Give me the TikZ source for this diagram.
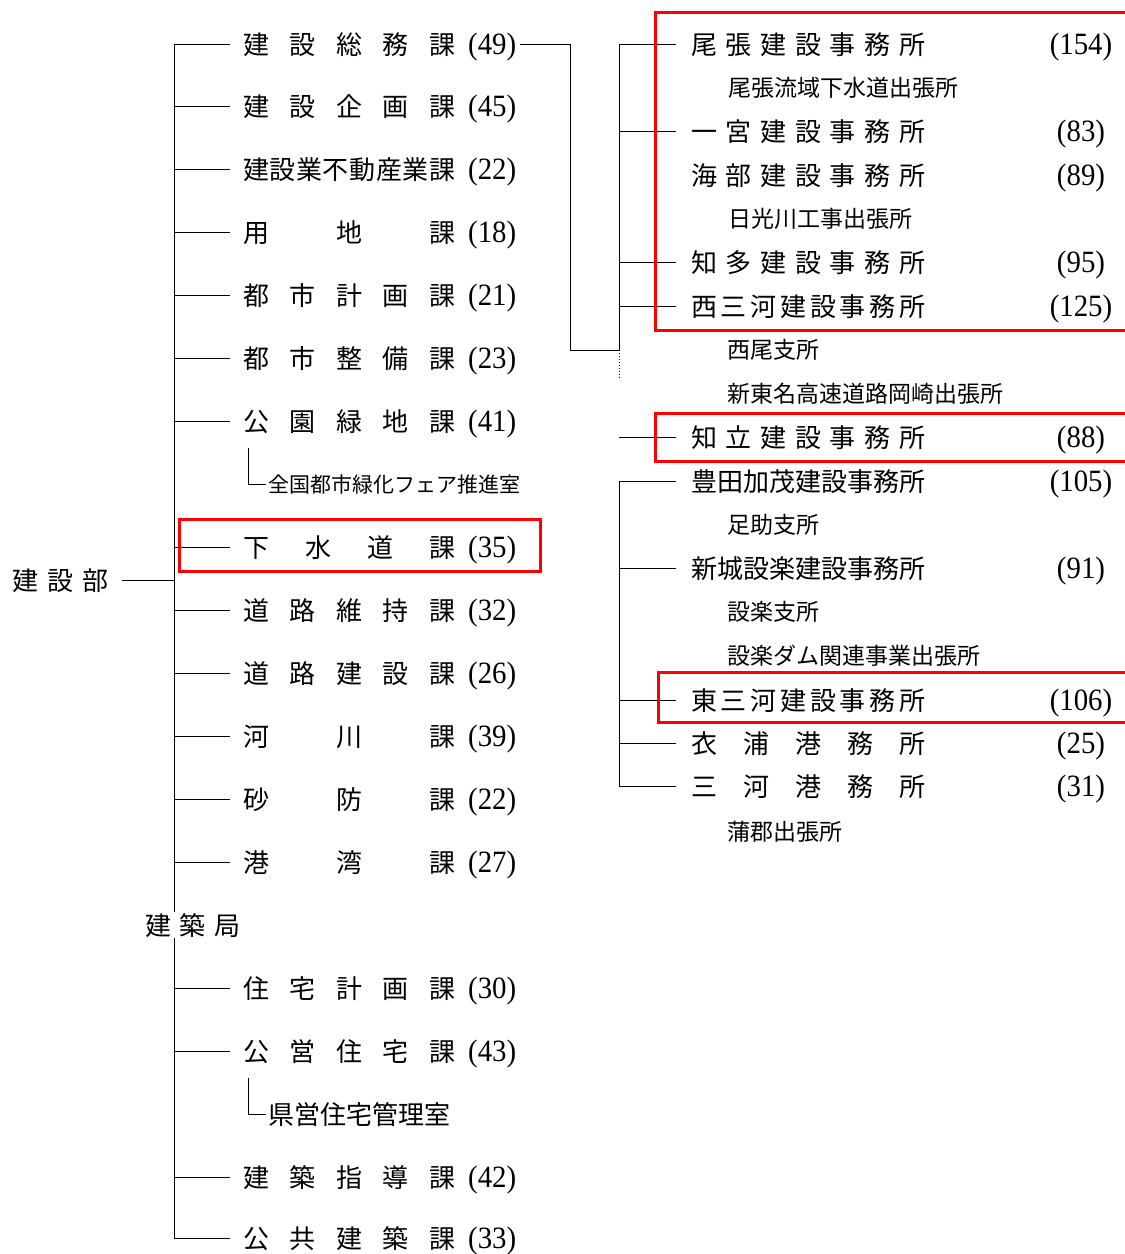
\documentclass[tikz,border=0pt]{standalone}
\usepackage{fontspec}
\newfontfamily\jp{Noto Sans CJK JP}
\newfontfamily\numf[FakeStretch=0.93]{Liberation Serif}
\newcommand\gp{\hfill}
\newcommand\LR[4]{\node[lrow] (#1) at (243,#2) {\hbox to 212pt{#3}\hspace{13pt}{\numf\fontsize{31}{31}\selectfont(#4)}};}
\newcommand\RR[4]{\node[lrow] (#1) at (691,#2) {\hbox to 234pt{#3}}; \node[num] (#1n) at (1081,#2) {(#4)};}
\newcommand\SB[4]{\node[subt] (#1) at (#2,#3) {#4};}
\begin{document}
\begin{tikzpicture}[x=1pt,y=-1pt,
  ln/.style={line width=1pt,black},
  redbox/.style={draw=red,line width=3pt},
  lrow/.style={anchor=west,inner sep=0pt,text height=23pt,text depth=3pt,font=\jp\fontsize{26}{26}\selectfont},
  subt/.style={anchor=west,inner sep=0pt,text height=20pt,text depth=3pt,font=\jp\fontsize{23}{23}\selectfont},
  num/.style={anchor=center,inner sep=0pt,text height=23pt,text depth=3pt,font=\numf\fontsize{31}{31}\selectfont}]
\useasboundingbox (0,0) rectangle (1125,1254);
% left column
\LR{L1}{44}{建\gp 設\gp 総\gp 務\gp 課}{49}
\LR{L2}{106}{建\gp 設\gp 企\gp 画\gp 課}{45}
\LR{L3}{169}{建\gp 設\gp 業\gp 不\gp 動\gp 産\gp 業\gp 課}{22}
\LR{L4}{232}{用\gp 地\gp 課}{18}
\LR{L5}{295}{都\gp 市\gp 計\gp 画\gp 課}{21}
\LR{L6}{358}{都\gp 市\gp 整\gp 備\gp 課}{23}
\LR{L7}{421}{公\gp 園\gp 緑\gp 地\gp 課}{41}
\node[subt,font=\jp\fontsize{21}{21}\selectfont] (S1) at (268,484) {全国都市緑化フェア推進室};
\LR{L8}{547}{下\gp 水\gp 道\gp 課}{35}
\LR{L9}{610}{道\gp 路\gp 維\gp 持\gp 課}{32}
\LR{L10}{673}{道\gp 路\gp 建\gp 設\gp 課}{26}
\LR{L11}{736}{河\gp 川\gp 課}{39}
\LR{L12}{799}{砂\gp 防\gp 課}{22}
\LR{L13}{862}{港\gp 湾\gp 課}{27}
\LR{L14}{988}{住\gp 宅\gp 計\gp 画\gp 課}{30}
\LR{L15}{1051}{公\gp 営\gp 住\gp 宅\gp 課}{43}
\node[lrow] (S2) at (268,1114) {県営住宅管理室};
\LR{L16}{1177}{建\gp 築\gp 指\gp 導\gp 課}{42}
\LR{L17}{1238}{公\gp 共\gp 建\gp 築\gp 課}{33}
\node[lrow] (bu) at (12,580) {\hbox to 96pt{建\gp 設\gp 部}};
% trunk
\coordinate (tT) at ([xshift=-69pt]L1.west);
\coordinate (tB) at ([xshift=-69pt]L17.west);
\draw[ln] (tT) -- (tB);
\foreach \n in {L1,L2,L3,L4,L5,L6,L7,L8,L9,L10,L11,L12,L13,L14,L15,L16,L17}
  \draw[ln] (\n.west -| tT) -- ([xshift=-13pt]\n.west);
\draw[ln] ([xshift=14pt]bu.east) -- (bu.east -| tT);
\draw[ln] ([shift={(5,27)}]L7.west) |- ([xshift=-2pt]S1.west);
\draw[ln] ([shift={(5,27)}]L15.west) |- ([xshift=-2pt]S2.west);
\node[lrow,fill=white,inner xsep=2pt] (kc) at (143,925) {\hbox to 95pt{建\gp 築\gp 局}};
% right column
\RR{R1}{44}{尾\gp 張\gp 建\gp 設\gp 事\gp 務\gp 所}{154}
\SB{T1}{728}{88}{尾張流域下水道出張所}
\RR{R2}{131}{一\gp 宮\gp 建\gp 設\gp 事\gp 務\gp 所}{83}
\RR{R3}{175}{海\gp 部\gp 建\gp 設\gp 事\gp 務\gp 所}{89}
\SB{T2}{728}{219}{日光川工事出張所}
\RR{R4}{262}{知\gp 多\gp 建\gp 設\gp 事\gp 務\gp 所}{95}
\RR{R5}{306}{西\gp 三\gp 河\gp 建\gp 設\gp 事\gp 務\gp 所}{125}
\SB{T3}{727}{350}{西尾支所}
\SB{T4}{727}{394}{新東名高速道路岡崎出張所}
\RR{R6}{437}{知\gp 立\gp 建\gp 設\gp 事\gp 務\gp 所}{88}
\RR{R7}{481}{豊\gp 田\gp 加\gp 茂\gp 建\gp 設\gp 事\gp 務\gp 所}{105}
\SB{T5}{727}{525}{足助支所}
\RR{R8}{568}{新\gp 城\gp 設\gp 楽\gp 建\gp 設\gp 事\gp 務\gp 所}{91}
\SB{T6}{727}{612}{設楽支所}
\SB{T7}{727}{656}{設楽ダム関連事業出張所}
\RR{R9}{700}{東\gp 三\gp 河\gp 建\gp 設\gp 事\gp 務\gp 所}{106}
\RR{R10}{743}{衣\gp 浦\gp 港\gp 務\gp 所}{25}
\RR{R11}{786}{三\gp 河\gp 港\gp 務\gp 所}{31}
\SB{T8}{727}{832}{蒲郡出張所}
% right trunk
\coordinate (rT) at ([xshift=-72pt]R1.west);
\coordinate (rJ) at (rT |- T3.west);
\draw[ln] (rT) -- (rJ);
\draw[ln,dotted] (rJ) -- ++(0,30);
\foreach \n in {R1,R2,R4,R5,R6,R7,R8,R9,R10,R11}
  \draw[ln] (\n.west -| rT) -- ([xshift=-15pt]\n.west);
\draw[ln] (R7.west -| rT) -- (R11.west -| rT);
\draw[ln] ([xshift=4pt]L1.east) -| ([xshift=-49pt]rJ) -- (rJ);
% red boxes
\draw[redbox] (655,12) rectangle (1140,330);
\draw[redbox] (179,519) rectangle (540,571);
\draw[redbox] (655,413) rectangle (1140,461);
\draw[redbox] (658,672) rectangle (1140,722);
\end{tikzpicture}
\end{document}
